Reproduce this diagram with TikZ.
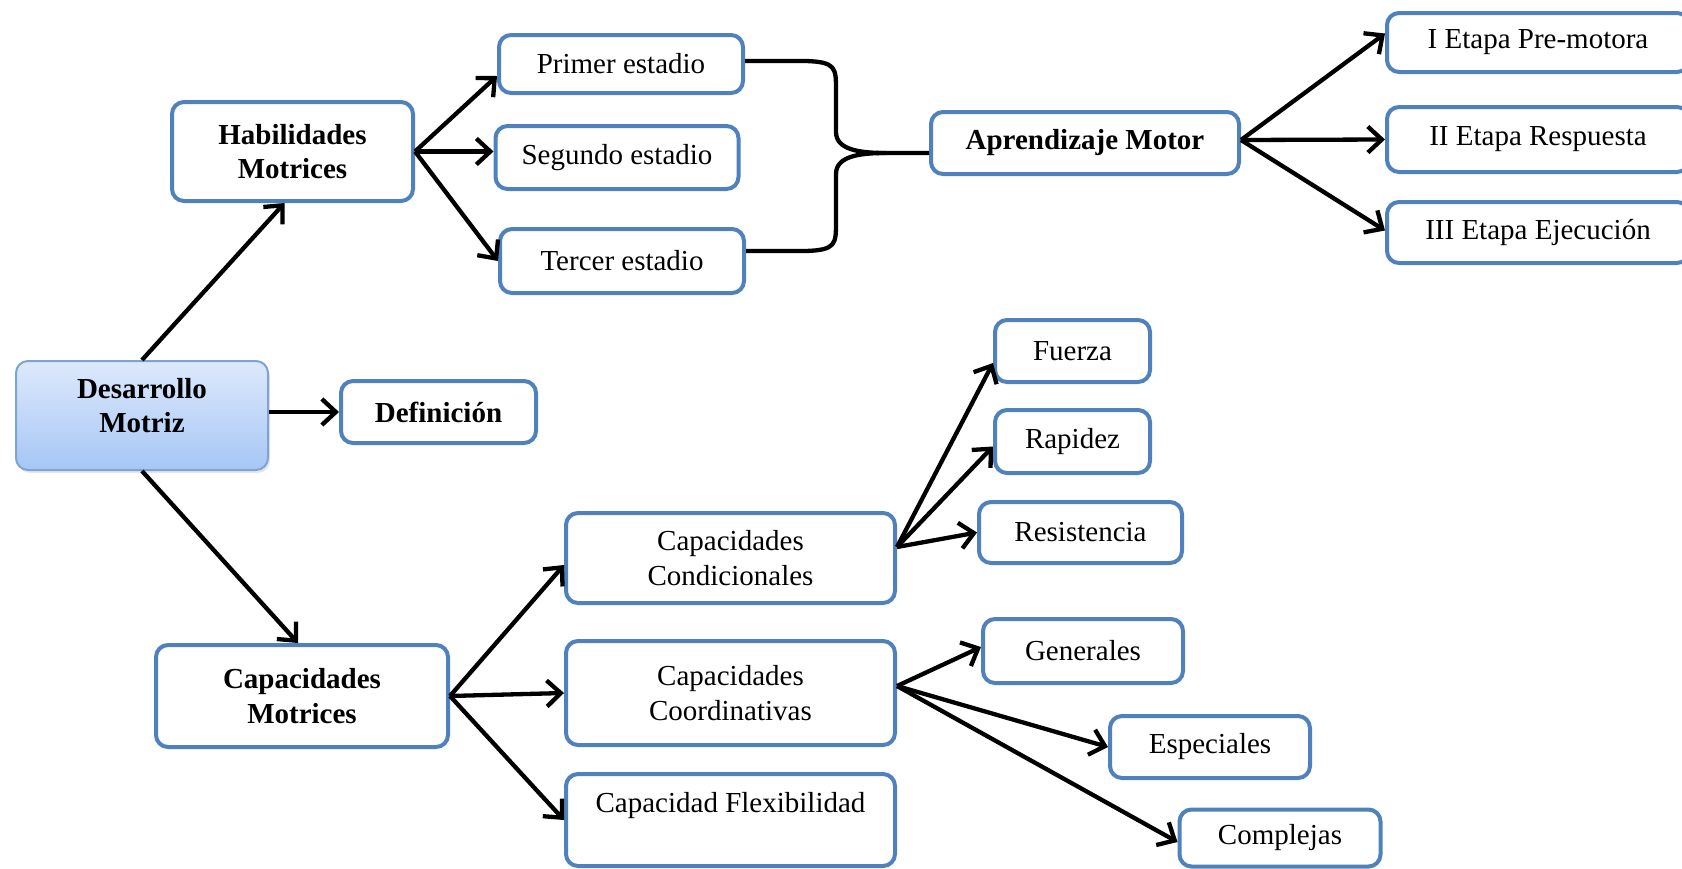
\documentclass[tikz,border=0pt]{standalone}
\usepackage{fontspec}
\setmainfont{Liberation Serif}
\usetikzlibrary{arrows.meta,shadows}
\definecolor{boxblue}{RGB}{79,129,189}
\definecolor{dmborder}{RGB}{126,164,214}
\definecolor{dmtop}{RGB}{221,233,252}
\definecolor{dmbottom}{RGB}{166,198,245}
\tikzset{
  box/.style={draw=boxblue, line width=4pt, rounded corners=12pt, fill=white,
    align=center, inner sep=0pt, font=\fontsize{29}{34.5}\selectfont},
  bbox/.style={box, font=\fontsize{29}{34.5}\selectfont\bfseries},
  arr/.style={line width=4.3pt, -{Straight Barb[length=14pt,width=26pt]}},
  brace/.style={line width=4.3pt, line join=round},
}
\begin{document}
\begin{tikzpicture}[x=1pt,y=-1pt]
\clip (0,0) rectangle (1682,868);
\useasboundingbox (0,0) rectangle (1682,868);

% nodes
\node[bbox, draw=dmborder, line width=2pt, top color=dmtop, bottom color=dmbottom,
  drop shadow={opacity=0.2, shadow xshift=2pt, shadow yshift=-3pt}, text depth=20pt,
  minimum width=252pt, minimum height=109pt] (dm) at (142,415.5) {Desarrollo\\Motriz};
\node[bbox, minimum width=195pt, minimum height=62pt] (def) at (438.5,412) {Definición};
\node[bbox, minimum width=241pt, minimum height=99pt] (hab) at (292.5,151.5) {Habilidades\\Motrices};
\node[box, minimum width=244pt, minimum height=58pt] (p1) at (621,64) {Primer estadio};
\node[box, minimum width=243pt, minimum height=63pt] (p2) at (617,157.5) {Segundo estadio};
\node[box, minimum width=244pt, minimum height=64pt] (p3) at (622,261) {Tercer estadio};
\node[bbox, minimum width=308pt, minimum height=62pt] (am) at (1085,143) {Aprendizaje Motor};
\node[box, minimum width=302pt, minimum height=59pt] (e1) at (1538,42.5) {I Etapa Pre-motora};
\node[box, minimum width=302pt, minimum height=65pt] (e2) at (1538,139.5) {II Etapa Respuesta};
\node[box, minimum width=302pt, minimum height=61pt] (e3) at (1538,232.5) {III Etapa Ejecución};
\node[bbox, minimum width=292pt, minimum height=102pt] (cm) at (302,696) {Capacidades\\Motrices};
\node[box, minimum width=329pt, minimum height=90pt] (cc) at (730.5,558) {Capacidades\\Condicionales};
\node[box, minimum width=329pt, minimum height=104pt] (co) at (730.5,693) {Capacidades\\Coordinativas};
\node[box, minimum width=329pt, minimum height=92pt] (fl) at (730.5,820) {Capacidad Flexibilidad\\\mbox{}};
\node[box, minimum width=155pt, minimum height=62pt] (fu) at (1072.5,351) {Fuerza};
\node[box, minimum width=155pt, minimum height=63pt] (ra) at (1072.5,441.5) {Rapidez};
\node[box, minimum width=203pt, minimum height=61pt] (re) at (1080.5,532.5) {Resistencia};
\node[box, minimum width=200pt, minimum height=64pt] (ge) at (1083,651) {Generales};
\node[box, minimum width=200pt, minimum height=62pt] (es) at (1210,747) {Especiales};
\node[box, minimum width=201pt, minimum height=57pt] (cx) at (1280,838) {Complejas};

% connectors
\draw[arr] (dm.north) -- ([xshift=-8pt]hab.south);
\draw[arr] (dm.east |- def.west) -- (def.west);
\draw[arr] (dm.south) -- ([xshift=-4pt]cm.north);

\draw[arr] (hab.east) -- ([yshift=-12pt]p1.west);
\draw[arr] (hab.east) -- (hab.east -| p2.west);
\draw[arr] (hab.east) -- (p3.west);

\coordinate (cusp) at (886,153);
\draw[brace] ([yshift=3pt]p1.east) -- (806,61) .. controls (836,62) and (836,68) .. (836,90)
  -- (836,132) .. controls (836,150) and (860,153) .. (cusp) -- (am.west |- cusp);
\draw[brace] ([yshift=10pt]p3.east) -- (806,251) .. controls (836,250) and (836,244) .. (836,222)
  -- (836,174) .. controls (836,156) and (860,153) .. (cusp);

\draw[arr] ([yshift=3pt]am.east) -- ([yshift=9pt]e1.west);
\draw[arr] ([yshift=3pt]am.east) -- (e2.west);
\draw[arr] ([yshift=3pt]am.east) -- ([yshift=2pt]e3.west);

\draw[arr] (cm.east) -- ([yshift=-7pt]cc.west);
\draw[arr] (cm.east) -- (co.west);
\draw[arr] (cm.east) -- (fl.west);

\draw[arr] ([yshift=11pt]cc.east) -- ([yshift=-12pt]fu.west);
\draw[arr] ([yshift=11pt]cc.east) -- ([yshift=-5pt]ra.west);
\draw[arr] ([yshift=11pt]cc.east) -- (re.west);

\draw[arr] ([yshift=7pt]co.east) -- ([yshift=4pt]ge.west);
\draw[arr] ([yshift=7pt]co.east) -- (es.west);
\draw[arr] ([yshift=7pt]co.east) -- ([yshift=-4pt]cx.west);
\end{tikzpicture}
\end{document}
